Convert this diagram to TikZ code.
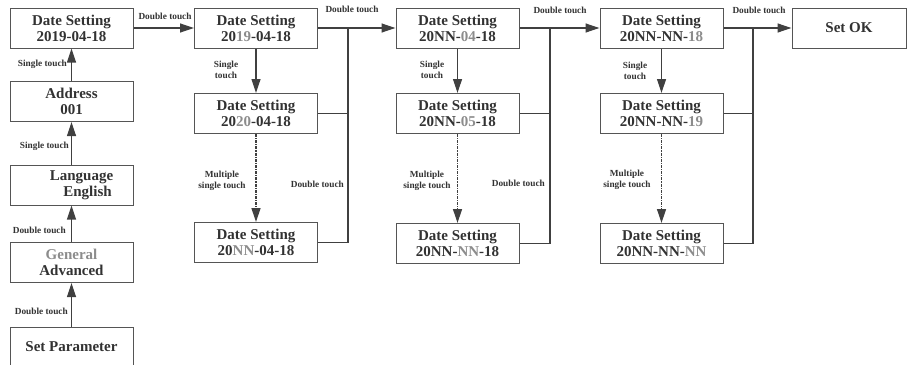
\documentclass[tikz,border=0pt]{standalone}
\usepackage{fontspec}
\setmainfont{Liberation Serif}
\usepackage{xcolor}
\usepackage{tikz}
\usetikzlibrary{arrows.meta}
\definecolor{boxgray}{RGB}{85, 85, 85}
\definecolor{linegray}{RGB}{64, 64, 64}
\definecolor{textdark}{RGB}{50, 50, 50}
\definecolor{digitgray}{RGB}{140, 140, 140}
\newcommand{\dimtxt}[1]{\textcolor{digitgray}{#1}}

\begin{document}
\begin{tikzpicture}[x=1pt, y=-1pt, >={Triangle[length=14pt,width=9pt]},
    menubox/.style={draw=boxgray, line width=1pt, minimum width=123pt, minimum height=40pt, inner sep=0pt, align=center, text=textdark, font=\fontsize{15}{16}\selectfont\bfseries},
    touchlabel/.style={text=textdark, inner sep=1pt, align=center, font=\fontsize{9.3}{11}\selectfont\bfseries},
    flow/.style={->, linegray, line width=1.2pt},
    multi/.style={->, linegray, line width=1.3pt, dash pattern=on 3pt off 1pt on 1.2pt off 1pt},
    link/.style={linegray, line width=1.2pt}]

    \useasboundingbox (0,0) rectangle (907,364);

    % Menu path
    \node[menubox] at (71.5,28) (date) {Date Setting\\2019-04-18};
    \node[menubox] at (71.5,101.5) (addr) {Address\\001};
    \node[menubox] at (71.5,185) (lang) {\hspace*{20pt}Language\\\hspace*{32pt}English};
    \node[menubox] at (71.5,262.5) (mode) {\dimtxt{General}\\Advanced};
    \node[menubox] at (71.5,347) (param) {Set Parameter};
    \draw[flow] (param) -- (mode);
    \draw[flow] (mode) -- (lang);
    \draw[flow] (lang) -- (addr);
    \draw[flow] (addr) -- (date);
    \node[touchlabel, anchor=east] at (68,64) (lbla) {Single touch};
    \node[touchlabel, anchor=east] at (70,146) (lblb) {Single touch};
    \node[touchlabel, anchor=east] at (67,230) (lblc) {Double touch};
    \node[touchlabel, anchor=east] at (69,311) (lbld) {Double touch};

    % Year
    \node[menubox] at (256,28) (year1) {Date Setting\\20\dimtxt{19}-04-18};
    \node[menubox] at (256,113.5) (year2) {Date Setting\\20\dimtxt{20}-04-18};
    \node[menubox] at (256,242.5) (year3) {Date Setting\\20\dimtxt{NN}-04-18};
    \draw[flow] (date.east) -- (year1.west);
    \draw[flow] (year1) -- (year2);
    \draw[multi] (year2) -- (year3);
    \coordinate (jyear) at (348,28);
    \draw[link] (year2.east) -| (jyear);
    \draw[link] (year3.east) -| (jyear);
    \node[touchlabel] at (165,16) (lble) {Double touch};
    \node[touchlabel] at (226,70) (lblf) {Single\\touch};
    \node[touchlabel] at (222,180.5) (lblg) {Multiple\\single touch};
    \node[touchlabel, anchor=east] at (345,184) (lblh) {Double touch};

    % Month
    \node[menubox] at (457.5,28) (month1) {Date Setting\\20NN-\dimtxt{04}-18};
    \node[menubox] at (457.5,113.5) (month2) {Date Setting\\20NN-\dimtxt{05}-18};
    \node[menubox] at (457.5,243.5) (month3) {Date Setting\\20NN-\dimtxt{NN}-18};
    \draw[flow] (year1.east) -- (month1.west);
    \draw[flow] (month1) -- (month2);
    \draw[multi] (month2) -- (month3);
    \coordinate (jmonth) at (550,28);
    \draw[link] (month2.east) -| (jmonth);
    \draw[link] (month3.east) -| (jmonth);
    \node[touchlabel] at (352,9) (lbli) {Double touch};
    \node[touchlabel] at (432,69.5) (lblj) {Single\\touch};
    \node[touchlabel] at (427,180.5) (lblk) {Multiple\\single touch};
    \node[touchlabel, anchor=east] at (546,183) (lbll) {Double touch};

    % Day
    \node[menubox] at (661.5,28) (day1) {Date Setting\\20NN-NN-\dimtxt{18}};
    \node[menubox] at (661.5,113.5) (day2) {Date Setting\\20NN-NN-\dimtxt{19}};
    \node[menubox] at (661.5,243.5) (day3) {Date Setting\\20NN-NN-\dimtxt{NN}};
    \draw[flow] (month1.east) -- (day1.west);
    \draw[flow] (day1) -- (day2);
    \draw[multi] (day2) -- (day3);
    \coordinate (jday) at (753,28);
    \draw[link] (day2.east) -| (jday);
    \draw[link] (day3.east) -| (jday);
    \node[touchlabel] at (560,10) (lblm) {Double touch};
    \node[touchlabel] at (635,70.5) (lbln) {Single\\touch};
    \node[touchlabel] at (627,180) (lblo) {Multiple\\single touch};

    % Done
    \node[menubox, minimum width=114pt] at (849,28) (setok) {Set OK};
    \draw[flow] (day1.east) -- (setok.west);
    \node[touchlabel] at (759,10) (lblp) {Double touch};

\end{tikzpicture}
\end{document}
